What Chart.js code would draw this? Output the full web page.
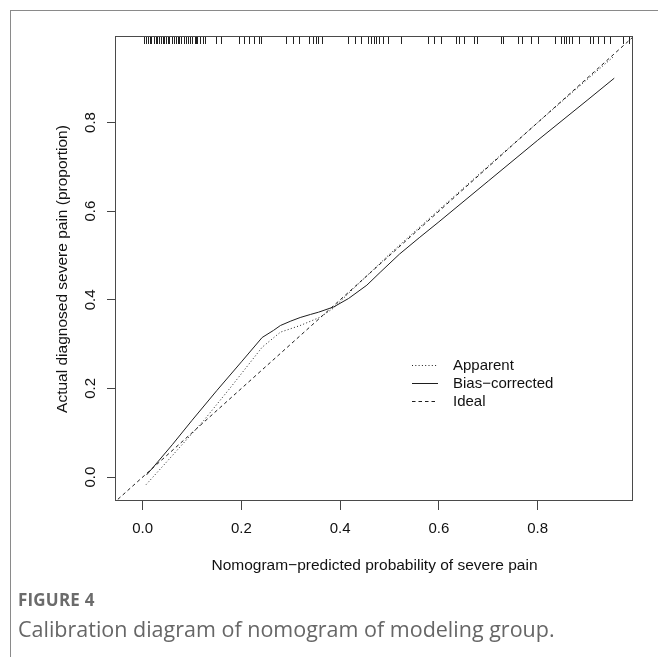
<!DOCTYPE html>
<html><head><meta charset="utf-8">
<script src="https://cdn.jsdelivr.net/npm/chart.js@4"></script>
<style>
html,body{margin:0;padding:0;background:#fff;width:658px;height:657px;overflow:hidden;}
#wrap{position:relative;width:658px;height:657px;}
canvas{position:absolute;left:0;top:0;}
.bt{position:absolute;left:10px;top:10px;width:648px;height:0;border-top:1px solid #8a8a8a;}
.bl{position:absolute;left:10px;top:10px;width:0;height:647px;border-left:1px solid #8a8a8a;}
#fig{position:absolute;left:18px;top:588px;font:bold 17px "Open Sans";color:#6b6b6b;letter-spacing:0.2px;}
#cap{position:absolute;left:18px;top:614px;font:21.5px "Open Sans";color:#666;}
</style></head>
<body>
<div id="wrap">
<canvas id="c" width="658" height="657"></canvas>
<div class="bt"></div><div class="bl"></div>
<div id="fig">FIGURE 4</div>
<div id="cap">Calibration diagram of nomogram of modeling group.</div>
</div>
<script>
// ---- data ----
const xTicks = [0, 0.2, 0.4, 0.6, 0.8];
const yTicks = [0, 0.2, 0.4, 0.6, 0.8];
const axisMin = -0.054, axisMax = 0.993;
const xTitle = 'Nomogram\u2212predicted probability of severe pain';
const yTitle = 'Actual diagnosed severe pain (proportion)';
const seriesNames = ['Apparent', 'Bias\u2212corrected', 'Ideal'];

const idealX = [-0.06, 1.0];
const idealY = [-0.06, 1.0];

const apparentX = [0.007, 0.05, 0.124, 0.18, 0.242, 0.279, 0.319, 0.36, 0.386, 0.42, 0.5, 0.6, 0.7, 0.8, 0.9, 0.955];
const apparentY = [-0.017, 0.036, 0.128, 0.205, 0.293, 0.327, 0.342, 0.361, 0.381, 0.418, 0.503, 0.603, 0.702, 0.80, 0.897, 0.95];

const biasX = [0.008, 0.022, 0.06, 0.1, 0.15, 0.2, 0.242, 0.265, 0.279, 0.3, 0.319, 0.34, 0.356, 0.387, 0.417, 0.454, 0.481, 0.52, 0.56, 0.6, 0.7, 0.8, 0.9, 0.955];
const biasY = [0.005, 0.023, 0.073, 0.128, 0.195, 0.26, 0.315, 0.331, 0.342, 0.352, 0.360, 0.367, 0.372, 0.384, 0.403, 0.433, 0.462, 0.503, 0.54, 0.576, 0.668, 0.76, 0.85, 0.90];

const rugValues = [0.003,0.007,0.010,0.014,0.017,0.022,0.027,0.030,0.034,0.037,0.041,0.044,0.047,0.051,0.054,0.059,0.064,0.068,0.071,0.074,0.078,0.084,0.088,0.091,0.095,0.099,0.105,0.108,0.111,0.117,0.122,0.126,
 0.149,0.159,0.196,0.206,0.216,0.226,0.236,0.240,0.290,0.304,0.317,0.336,0.344,0.351,0.356,0.363,
 0.415,0.429,0.442,0.456,0.463,0.469,0.473,0.479,0.486,0.496,0.523,0.577,0.591,0.604,0.635,0.641,0.650,0.672,0.678,
 0.726,0.730,0.760,0.768,0.787,0.800,0.836,0.847,0.853,0.858,0.864,0.870,0.884,0.905,0.913,0.922,0.934,0.946,0.972,0.985];

// ---- chart ----
const FONT = '"Liberation Sans", Arial, sans-serif';
const LINE = '#1e1e1e';
const zip = (xs, ys) => xs.map((x, i) => ({x: x, y: ys[i]}));

const extras = {
  id: 'extras',
  afterDatasetsDraw(chart) {
    const {ctx, chartArea: a, scales: {x: xs, y: ys}} = chart;
    ctx.save();
    // frame
    ctx.strokeStyle = '#4a4a4a';
    ctx.lineWidth = 1;
    ctx.setLineDash([]);
    ctx.strokeRect(a.left - 0.5, a.top - 0.5, a.right - a.left, a.bottom - a.top);
    // rug
    ctx.strokeStyle = '#222';
    ctx.beginPath();
    rugValues.forEach(v => {
      const px = Math.round(xs.getPixelForValue(v)) + 0.5;
      ctx.moveTo(px, a.top);
      ctx.lineTo(px, a.top + 7);
    });
    ctx.stroke();
    // rotated y tick labels
    ctx.fillStyle = '#111';
    ctx.font = '15px ' + FONT;
    ctx.textAlign = 'center';
    ctx.textBaseline = 'alphabetic';
    yTicks.forEach(v => {
      const py = ys.getPixelForValue(v);
      ctx.save();
      ctx.translate(a.left - 21, py);
      ctx.rotate(-Math.PI / 2);
      ctx.fillText(v.toFixed(1), 0, 0);
      ctx.restore();
    });
    // legend
    const lx = a.left + 296, ly = a.top + 327.5, step = 18.3;
    chart.data.datasets.forEach((ds, i) => {
      const yy = Math.round(ly + i * step) + 0.5;
      ctx.strokeStyle = ds.borderColor;
      ctx.lineWidth = ds.borderWidth;
      ctx.setLineDash(ds.borderDash || []);
      ctx.beginPath();
      ctx.moveTo(lx, yy);
      ctx.lineTo(lx + 26, yy);
      ctx.stroke();
      ctx.setLineDash([]);
      ctx.textAlign = 'left';
      ctx.textBaseline = 'middle';
      ctx.fillStyle = '#111';
      ctx.fillText(ds.label, lx + 41, yy + 0.5);
    });
    ctx.restore();
  }
};

new Chart(document.getElementById('c'), {
  type: 'line',
  data: {
    datasets: [
      {label: seriesNames[0], data: zip(apparentX, apparentY), borderColor: LINE, borderWidth: 1, borderDash: [1, 2.3], pointRadius: 0, tension: 0, fill: false},
      {label: seriesNames[1], data: zip(biasX, biasY), borderColor: LINE, borderWidth: 1, pointRadius: 0, tension: 0, fill: false},
      {label: seriesNames[2], data: zip(idealX, idealY), borderColor: LINE, borderWidth: 1, borderDash: [3.5, 3], pointRadius: 0, tension: 0, fill: false}
    ]
  },
  options: {
    responsive: false,
    animation: false,
    devicePixelRatio: 1,
    layout: {padding: {left: 0, top: 37, right: 25, bottom: 0}},
    plugins: {legend: {display: false}, tooltip: {enabled: false}},
    scales: {
      x: {
        type: 'linear', min: axisMin, max: axisMax,
        afterFit(s) { s.height = 156; },
        afterBuildTicks(s) { s.ticks = xTicks.map(v => ({value: v})); },
        ticks: {callback: v => Number(v).toFixed(1), color: '#111', font: {family: FONT, size: 15}, padding: 10, maxRotation: 0, autoSkip: false},
        grid: {drawOnChartArea: false, drawTicks: true, tickLength: 9, tickColor: '#444', lineWidth: 1},
        border: {display: false},
        title: {display: true, text: xTitle, color: '#111', font: {family: FONT, size: 15.5}, padding: {top: 0, bottom: 82}}
      },
      y: {
        type: 'linear', min: axisMin, max: axisMax,
        afterFit(s) { s.width = 116; },
        afterBuildTicks(s) { s.ticks = yTicks.map(v => ({value: v})); },
        ticks: {display: false},
        grid: {drawOnChartArea: false, drawTicks: true, tickLength: 9, tickColor: '#444', lineWidth: 1},
        border: {display: false},
        title: {display: true, text: yTitle, color: '#111', font: {family: FONT, size: 15.5}, padding: {top: 53, bottom: 0}}
      }
    }
  },
  plugins: [extras]
});
</script>
</body></html>
